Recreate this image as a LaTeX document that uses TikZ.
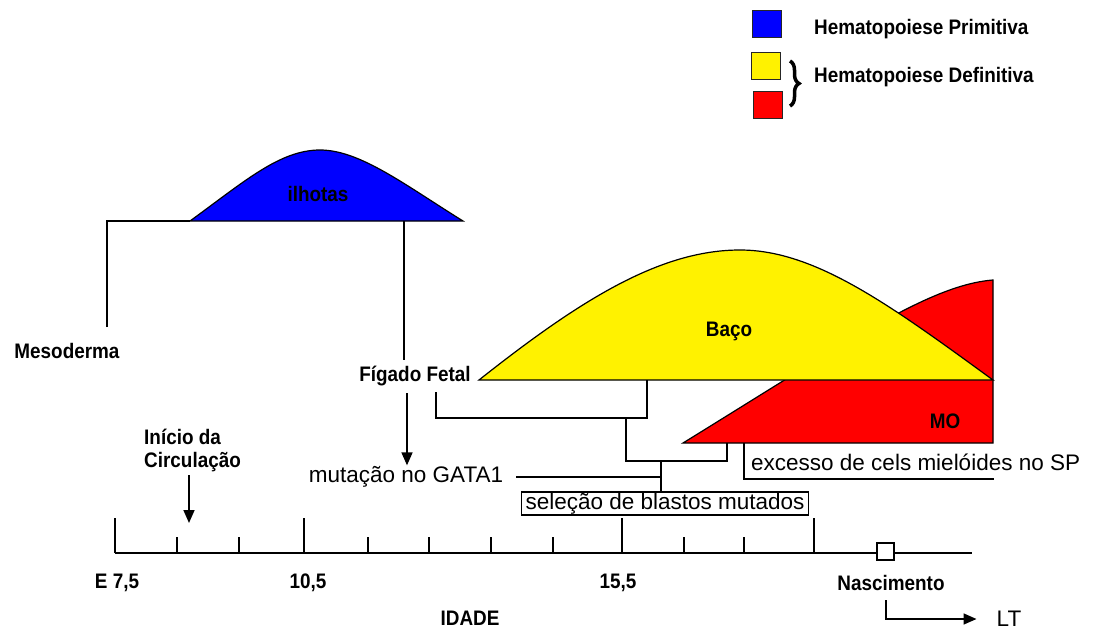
\documentclass[tikz,border=0pt]{standalone}
\usepackage{fontspec}
\setmainfont{Liberation Sans}
\newfontfamily\condfont{Liberation Sans}[FakeStretch=0.9]
\usetikzlibrary{arrows.meta,decorations.pathreplacing}

\tikzset{
  lbl/.style={font=\condfont\fontsize{21}{23}\selectfont\bfseries, inner sep=1pt},
  txt/.style={font=\fontsize{22.5}{26}\selectfont, inner sep=1pt},
  hump/.style={draw=black, line width=1.2pt},
  link/.style={draw=black, line width=1.6pt},
  pointer/.style={link, -{Triangle[length=13pt,width=11pt]}},
  swatch/.style={draw=black!85, line width=1.3pt, minimum width=29pt, minimum height=27pt, inner sep=0pt},
  axistick/.style={line width=1.6pt},
}

\begin{document}
\begin{tikzpicture}[x=1pt,y=-1pt]
\useasboundingbox (0,0) rectangle (1106,632);

% legenda
\node[swatch, fill=blue] (sqBlue) at (767,24) {};
\node[swatch, fill=yellow] (sqYellow) at (766,66) {};
\node[swatch, fill=red] (sqRed) at (768,105) {};
\node[lbl, anchor=west] (prim) at (813,29) {Hematopoiese Primitiva};
\node[lbl, anchor=west] (defin) at (813,77) {Hematopoiese Definitiva};
\draw[line width=3.5pt, decorate, decoration={brace, amplitude=9pt}] (790,61) -- (790,106);

% curvas
\coordinate (moTip) at (683,443);
\coordinate (moTop) at (993,280);
\coordinate (moBot) at (993,443);
\draw[hump, fill=red] (moTip) .. controls (850,340) and (930,285) .. (moTop) -- (moBot) -- cycle;
\coordinate (bacoL) at (479,380);
\coordinate (bacoR) at (993,380);
\draw[hump, fill=yellow] (bacoL) .. controls (580,300) and (660,250) .. (740,250)
      .. controls (815,250) and (890,305) .. (bacoR) -- cycle;
\coordinate (ilhL) at (190,221);
\coordinate (ilhR) at (463,221);
\draw[hump, fill=blue] (ilhL) .. controls (245,181) and (280,150) .. (320,150)
      .. controls (360,150) and (405,185) .. (ilhR) -- cycle;

\node[lbl] (ilhotas) at (318,194) {ilhotas};
\node[lbl] (baco) at (729,331) {Baço};
\node[lbl] (mo) at (945,421) {MO};
\node[lbl] (meso) at (67,351) {Mesoderma};
\node[lbl] (fetal) at (415,376) {Fígado Fetal};
\node[txt] (gata) at (406,477) {mutação no GATA1};
\node[txt, draw, line width=1.6pt, inner xsep=4pt, inner ysep=1pt] (selec) at (665,503.5) {seleção de blastos mutados};
\node[txt, anchor=west] (excesso) at (750,462) {excesso de cels mielóides no SP};
\node[lbl, align=left, anchor=north west] (inicio) at (143,428) {Início da\\Circulação};

% eixo
\coordinate (axL) at (115,553);
\coordinate (axR) at (972,553);
\draw[axistick] (axL) -- (axR);
\foreach \x in {115,304,622,814} \draw[axistick] (\x,553) -- (\x,518);
\foreach \x in {177,239,368,429,491,553,684,744} \draw[axistick] (\x,553) -- (\x,537);
\node[draw, line width=1.5pt, fill=white, minimum size=17pt, inner sep=0pt] (nascBox) at (885.5,551.5) {};
\node[lbl] (e75) at (117,583) {E 7,5};
\node[lbl] (x105) at (308,583) {10,5};
\node[lbl] (x155) at (618,583) {15,5};
\node[lbl] (nasc) at (891,583) {Nascimento};
\node[lbl] (idade) at (470,618) {IDADE};
\node[txt] (lt) at (1009,619) {LT};

% ligacoes
\coordinate (mesoTop) at (107,327);
\draw[link] (mesoTop) |- (ilhL);
\coordinate (ilhF) at (404,221);
\coordinate (fetTop) at (404,360);
\draw[link] (ilhF) -- (fetTop);
\coordinate (arrTop) at (407,393);
\draw[pointer] (arrTop) -- (gata.north -| arrTop);
\coordinate (fetJ) at (436,392);
\coordinate (bacoJ) at (647,380);
\coordinate (j1) at (647,418);
\draw[link] (fetJ) |- (j1) -- (bacoJ);
\coordinate (j2) at (626,418);
\coordinate (j3) at (727,461);
\coordinate (moJ) at (727,443);
\draw[link] (j2) |- (j3) -- (moJ);
\coordinate (j4) at (661,461);
\draw[link] (j4) -- (selec.north -| j4);
\draw[link] ([xshift=12pt]gata.east) -- (gata.east -| j4);
\coordinate (moK) at (744,443);
\coordinate (excEnd) at (994,479);
\draw[link] (moK) |- (excEnd);
\coordinate (circTop) at (189,475);
\coordinate (circTip) at (189,523);
\draw[pointer] (circTop) -- (circTip);
\coordinate (ltStart) at (886,600);
\draw[pointer] (ltStart) |- ([xshift=-19pt]lt.west);
\end{tikzpicture}
\end{document}
